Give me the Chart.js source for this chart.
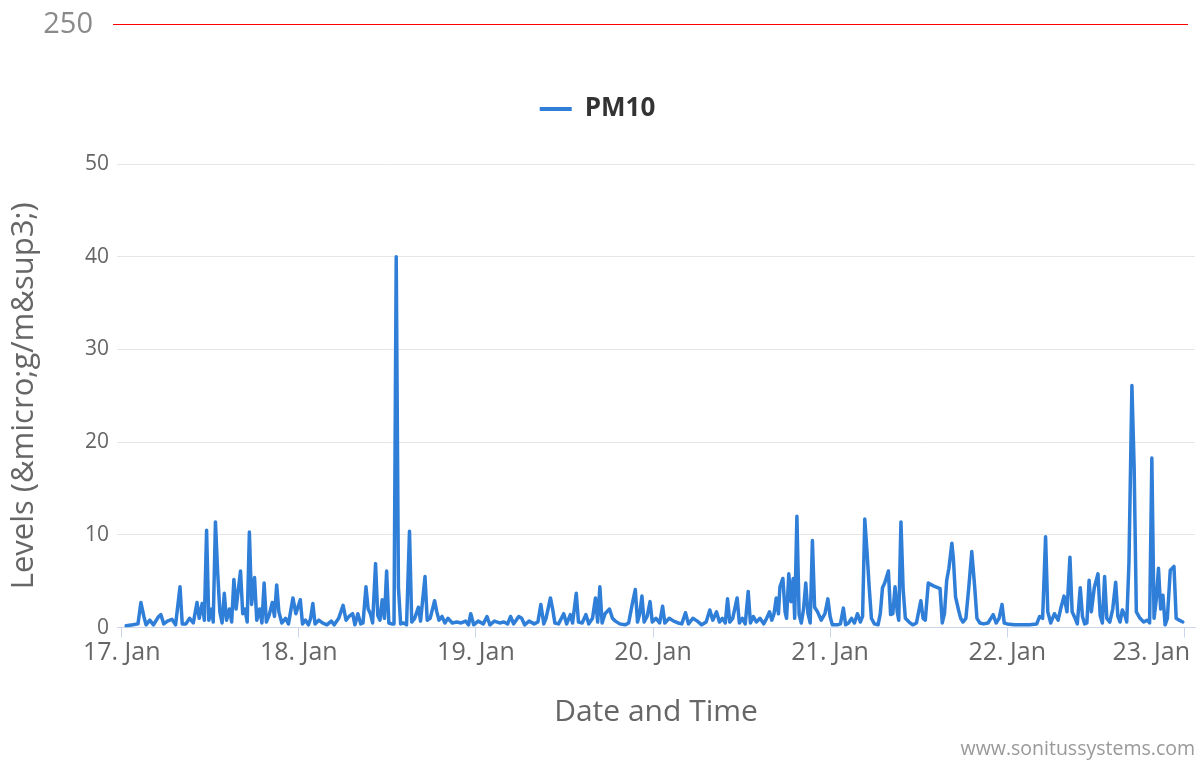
<!DOCTYPE html>
<html><head><meta charset="utf-8">
<script src="https://cdn.jsdelivr.net/npm/chart.js@4.4.1/dist/chart.umd.min.js"></script>
<style>html,body{margin:0;padding:0;background:#fff}canvas{display:block}</style>
</head><body>
<canvas id="c" width="1200" height="761"></canvas>
<script>
// ---- data ----
const seriesName = 'PM10';
// hours since 17 Jan 00:00
const hours = [
  0.6,1.5,2.2,2.6,3.0,3.3,3.8,4.3,5.0,5.3,5.7,6.2,6.8,7.3,7.9,8.2,8.7,9.2,9.7,10.2,10.5,10.9,11.2,11.5,11.8,12.2,12.4,12.7,13.0,13.3,13.6,13.9,14.2,14.6,14.9,15.2,15.5,15.8,16.1,16.4,16.7,17.0,17.3,17.6,18.0,18.3,18.7,19.0,19.3,19.6,20.0,20.4,20.7,21.0,21.3,21.7,22.2,22.6,23.2,23.6,
  24.2,24.5,24.9,25.3,25.6,25.9,26.2,26.7,27.2,27.8,28.4,28.8,29.4,30.0,30.4,30.8,31.3,31.6,32.0,32.4,32.7,33.1,33.4,33.7,34.0,34.4,34.7,35.0,35.3,35.6,35.9,36.2,36.6,36.9,37.2,37.5,37.8,38.2,38.6,39.0,39.3,39.7,40.2,40.5,41.1,41.4,41.8,42.4,42.7,43.0,43.4,43.8,44.2,44.8,45.4,46.0,46.6,47.0,47.3,47.7,
  48.3,49.0,49.5,49.9,50.5,51.2,51.8,52.3,52.7,53.1,53.8,54.2,54.6,55.2,55.9,56.4,56.8,57.2,57.5,58.1,58.4,58.7,59.2,59.9,60.3,60.8,61.1,61.6,61.9,62.4,62.9,63.3,63.8,64.2,64.5,64.8,65.1,65.5,66.1,66.5,66.9,67.5,68.2,68.7,69.2,69.6,69.9,70.2,70.5,70.8,71.2,71.6,71.9,
  72.4,72.9,73.3,73.6,74.2,74.8,75.4,75.9,76.4,76.8,77.4,78.0,78.6,79.2,79.7,80.1,80.6,81.0,81.4,81.8,82.1,82.4,82.8,83.4,83.7,84.1,84.5,84.9,85.2,85.6,86.0,86.5,87.0,87.4,87.8,88.1,88.4,88.7,89.0,89.2,89.6,89.9,90.1,90.4,90.7,91.0,91.2,91.5,91.8,92.1,92.4,92.7,93.0,93.3,93.6,93.9,94.3,94.8,95.3,95.7,
  96.0,96.3,97.0,97.4,97.8,98.1,98.5,98.9,99.3,99.7,100.1,100.4,100.7,101.0,101.3,101.6,102.0,102.5,102.8,103.1,103.4,103.9,104.2,104.5,104.8,105.1,105.3,105.6,105.9,106.2,106.7,107.2,107.7,108.3,108.6,108.9,109.3,110.0,110.9,111.2,111.5,111.8,112.1,112.5,112.7,113.0,113.4,113.7,114.0,114.4,114.8,115.2,115.6,115.9,116.3,116.8,
  117.4,118.1,118.5,118.9,119.3,119.6,120.0,121.0,122.0,123.0,124.0,124.4,124.8,125.2,125.5,125.9,126.4,126.9,127.3,127.7,128.1,128.5,128.8,129.2,129.5,129.9,130.2,130.5,130.8,131.1,131.4,131.8,132.3,132.6,132.9,133.2,133.5,133.9,134.3,134.7,135.0,135.3,135.6,136.0,136.2,136.5,136.9,137.2,137.5,138.0,138.5,139.0,139.3,139.6,139.9,140.2,140.5,140.8,141.1,141.4,141.7,142.1,142.6,142.9,143.3,143.8
];
const pm10 = [
  0.2,0.3,0.4,2.7,1.2,0.3,0.8,0.3,1.2,1.4,0.4,0.7,0.9,0.3,4.4,0.4,0.4,1.0,0.5,2.7,1.0,2.6,0.8,10.5,0.8,2.0,0.6,11.4,6.0,1.7,0.5,3.7,0.8,2.0,0.6,5.2,2.0,4.1,6.1,1.5,2.0,0.6,10.3,2.5,5.4,0.8,2.0,0.5,4.8,0.6,1.4,2.7,1.2,4.6,1.7,0.5,1.0,0.4,3.2,1.5,
  3.0,0.4,0.8,0.3,1.0,2.6,0.4,0.8,0.5,0.3,0.7,0.3,1.0,2.4,0.8,1.2,1.5,0.3,1.5,0.4,0.5,4.4,2.0,1.5,0.5,6.9,1.3,0.8,3.0,1.0,6.1,0.5,0.4,0.4,40.0,4.3,0.4,0.5,0.3,10.4,0.6,1.0,2.2,0.7,5.5,0.8,1.0,2.9,1.7,0.8,1.2,0.5,1.0,0.5,0.6,0.5,0.7,0.3,1.5,0.3,
  0.7,0.4,1.2,0.3,0.7,0.5,0.6,0.4,1.2,0.4,1.2,1.0,0.3,0.7,0.4,0.6,2.5,0.4,1.0,3.2,2.0,0.5,0.4,1.5,0.4,1.4,0.5,3.7,0.6,0.5,1.4,0.4,1.0,3.2,0.6,4.4,0.5,1.5,2.0,1.0,0.7,0.4,0.3,0.5,2.6,4.1,0.6,1.5,3.4,0.6,1.2,2.8,0.6,
  1.0,0.5,2.3,0.5,1.0,0.7,0.5,0.4,1.6,0.4,1.0,0.7,0.3,0.6,1.9,0.8,1.7,0.6,1.0,0.5,3.1,0.6,1.0,3.2,0.5,1.0,0.4,3.9,0.5,1.2,0.6,1.0,0.4,1.0,1.7,0.8,1.5,3.2,1.5,4.4,5.3,1.7,1.0,5.8,2.8,5.3,1.0,12.0,1.4,0.5,2.0,4.8,1.5,0.5,9.4,2.2,1.7,0.8,1.5,3.1,
  1.2,0.3,0.3,0.4,2.1,0.3,0.5,1.0,0.5,1.5,0.6,1.2,11.7,8.2,4.3,1.0,0.4,0.3,1.5,4.3,4.8,6.1,1.4,1.5,4.4,1.7,0.8,11.4,4.1,1.0,0.6,0.3,0.5,2.9,1.0,0.8,4.8,4.5,4.2,0.5,1.5,5.1,6.4,9.1,7.5,3.3,1.9,1.0,0.6,1.0,4.4,8.2,4.3,1.0,0.5,0.4,
  0.5,1.4,0.5,1.0,2.5,0.5,0.4,0.3,0.3,0.3,0.4,1.2,1.0,9.8,1.7,0.5,1.5,0.8,2.2,3.4,1.7,7.6,1.7,1.0,0.4,4.3,1.2,0.4,0.5,5.1,1.7,4.3,5.8,1.3,0.5,5.5,1.0,0.6,2.0,4.9,1.2,0.6,1.9,1.2,0.6,7.0,26.1,17.4,1.7,1.0,0.6,0.8,0.5,18.3,1.0,3.0,6.4,2.0,3.5,0.3,1.0,6.2,6.6,1.0,0.8,0.6
];
const dayTicks = [0, 24, 48, 72, 96, 120, 144];
const dayLabels = ['17. Jan', '18. Jan', '19. Jan', '20. Jan', '21. Jan', '22. Jan', '23. Jan'];
const yTicks = [0, 10, 20, 30, 40, 50];
const thresholdValue = 250;
const xTitle = 'Date and Time';
const yTitle = 'Levels (&micro;g/m&sup3;)';
const credit = 'www.sonitussystems.com';

const FONT = "'Open Sans', 'DejaVu Sans', sans-serif";
const lineColor = '#2f7ed8';

const points = hours.map((h, i) => ({ x: h, y: pm10[i] }));

const xLabelsPlugin = {
  id: 'xLabels',
  afterDraw(chart) {
    const sc = chart.scales.x, ctx = chart.ctx;
    ctx.save();
    ctx.font = '25px ' + FONT;
    ctx.fillStyle = '#666666';
    ctx.textBaseline = 'middle';
    ctx.textAlign = 'left';
    dayTicks.forEach((v, i) => {
      const w = ctx.measureText(dayLabels[i]).width;
      let x = sc.getPixelForValue(v) - w / 2;
      x = Math.min(x, chart.width - 10 - w);
      x = Math.max(x, 0);
      ctx.fillText(dayLabels[i], x, sc.top + 25);
    });
    ctx.restore();
  }
};

const thresholdPlugin = {
  id: 'threshold',
  afterDraw(chart) {
    const a = chart.chartArea, ctx = chart.ctx;
    ctx.save();
    ctx.strokeStyle = '#ff0000';
    ctx.lineWidth = 1.2;
    ctx.beginPath();
    ctx.moveTo(a.left - 4, 24.5);
    ctx.lineTo(a.right - 7, 24.5);
    ctx.stroke();
    ctx.font = '29px ' + FONT;
    ctx.fillStyle = '#8a8a8a';
    ctx.textAlign = 'right';
    ctx.textBaseline = 'middle';
    ctx.fillText(String(thresholdValue), a.left - 24, 25);
    ctx.restore();
  }
};

new Chart(document.getElementById('c'), {
  type: 'line',
  data: {
    datasets: [{
      label: seriesName,
      data: points,
      borderColor: lineColor,
      backgroundColor: lineColor,
      borderWidth: 3.5,
      pointRadius: 0,
      tension: 0,
      borderJoinStyle: 'round',
      borderCapStyle: 'round',
      fill: false
    }]
  },
  options: {
    responsive: false,
    animation: false,
    devicePixelRatio: 1,
    layout: { padding: { top: 66, right: 5, left: 0, bottom: 0 } },
    plugins: {
      tooltip: { enabled: false },
      legend: {
        position: 'top',
        labels: {
          boxWidth: 32, boxHeight: 4, padding: 30,
          color: '#333333',
          font: { family: FONT, size: 26, weight: 'bold' },
          generateLabels: (chart) => Chart.defaults.plugins.legend.labels.generateLabels(chart)
            .map(l => Object.assign(l, { lineWidth: 0, fillStyle: lineColor }))
        }
      },
      // empty spacer box between legend and plot
      title: {
        display: true, text: ' ', position: 'top', weight: 500,
        font: { size: 10 }, padding: { top: 20, bottom: 0 }
      },
      subtitle: {
        display: true, text: credit, position: 'bottom', align: 'end',
        color: '#999999', font: { family: FONT, size: 19.5 },
        padding: { top: 3, bottom: 0 }
      }
    },
    scales: {
      x: {
        type: 'linear', min: -0.64, max: 145.45,
        afterBuildTicks: (s) => { s.ticks = dayTicks.map(v => ({ value: v })); },
        ticks: { display: false },
        grid: { drawOnChartArea: false, drawTicks: true, tickLength: 10, color: '#ccd6eb' },
        border: { display: true, color: '#ccd6eb' },
        title: { display: true, text: xTitle, color: '#666666', font: { family: FONT, size: 30 }, padding: { top: 57, bottom: 4 } }
      },
      y: {
        min: 0, max: 50,
        afterBuildTicks: (s) => { s.ticks = yTicks.map(v => ({ value: v })); },
        afterFit: (s) => { s.width = 117; },
        ticks: { color: '#666666', font: { family: FONT, size: 21 }, padding: 8 },
        grid: { color: '#e6e6e6', drawTicks: false },
        border: { display: false },
        title: { display: true, text: yTitle, color: '#666666', font: { family: FONT, size: 31 }, padding: { top: 6, bottom: 0 } }
      }
    }
  },
  plugins: [xLabelsPlugin, thresholdPlugin]
});
</script>
</body></html>
